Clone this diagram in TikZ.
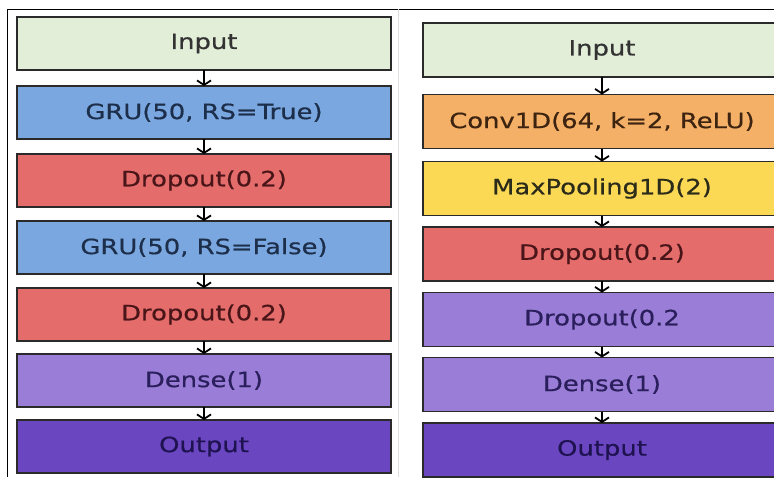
\documentclass[tikz,border=0pt]{standalone}
\usepackage{fontspec}
\newfontfamily\lab[FakeStretch=1.23,FakeBold=0.6]{DejaVu Sans}
\usetikzlibrary{arrows.meta}
\definecolor{cin}{HTML}{E2EED8}
\definecolor{cgru}{HTML}{7AA7DF}
\definecolor{cdrop}{HTML}{E46C6B}
\definecolor{cdense}{HTML}{9A7DD6}
\definecolor{cout}{HTML}{6B46C1}
\definecolor{cconv}{HTML}{F5B068}
\definecolor{cpool}{HTML}{FCD955}
\definecolor{tin}{HTML}{333333}
\definecolor{tgru}{HTML}{1C2E4A}
\definecolor{tdrop}{HTML}{4A1518}
\definecolor{tdense}{HTML}{2A1E5C}
\definecolor{tout}{HTML}{1E1250}
\definecolor{tconv}{HTML}{3D2410}
\definecolor{tpool}{HTML}{2B2B1A}
\definecolor{edge}{HTML}{2A2A2A}
\begin{document}
\begin{tikzpicture}[x=1pt,y=-1pt,
  layer/.style={draw=edge, line width=1.5pt, inner sep=0pt, outer sep=0pt,
    font=\lab\fontsize{21}{25}\selectfont},
  lbox/.style={layer, minimum width=374pt, minimum height=53pt},
  rbox/.style={layer, minimum width=358pt, minimum height=54pt},
  arr/.style={draw=black, line width=1.8pt, -{Straight Barb[length=4.5pt,width=14pt]}}]
\useasboundingbox (0,0) rectangle (774,477);
\clip (0,0) rectangle (774,477);
\fill[white] (0,0) rectangle (774,477);
% frame
\draw[black, line width=1pt] (7,9) -- (774,9);
\draw[black, line width=1pt] (7,9) -- (7,477);
\draw[gray!25, line width=1pt] (398,9) -- (398,477);
% left column
\node[lbox, fill=cin, text=tin] (l1) at (204,43.5) {Input};
\node[lbox, fill=cgru, text=tgru] (l2) at (204,112.5) {GRU(50, RS=True)};
\node[lbox, fill=cdrop, text=tdrop] (l3) at (204,180.5) {Dropout(0.2)};
\node[lbox, fill=cgru, text=tgru] (l4) at (204,247.5) {GRU(50, RS=False)};
\node[lbox, fill=cdrop, text=tdrop] (l5) at (204,314.5) {Dropout(0.2)};
\node[lbox, fill=cdense, text=tdense] (l6) at (204,380.5) {Dense(1)};
\node[lbox, fill=cout, text=tout] (l7) at (204,446.5) {Output};
% right column
\node[rbox, fill=cin, text=tin] (r1) at (602,50) {Input};
\node[rbox, fill=cconv, text=tconv] (r2) at (602,121.5) {Conv1D(64, k=2, ReLU)};
\node[rbox, fill=cpool, text=tpool] (r3) at (602,188.5) {MaxPooling1D(2)};
\node[rbox, fill=cdrop, text=tdrop] (r4) at (602,254) {Dropout(0.2)};
\node[rbox, fill=cdense, text=tdense] (r5) at (602,319.5) {Dropout(0.2};
\node[rbox, fill=cdense, text=tdense] (r6) at (602,384.5) {Dense(1)};
\node[rbox, fill=cout, text=tout] (r7) at (602,450) {Output};
% arrows
\foreach \a/\b in {l1/l2,l2/l3,l3/l4,l4/l5,l5/l6,l6/l7,r1/r2,r2/r3,r3/r4,r4/r5,r5/r6,r6/r7}
  \draw[arr] (\a.south) -- (\b.north);
\end{tikzpicture}
\end{document}
